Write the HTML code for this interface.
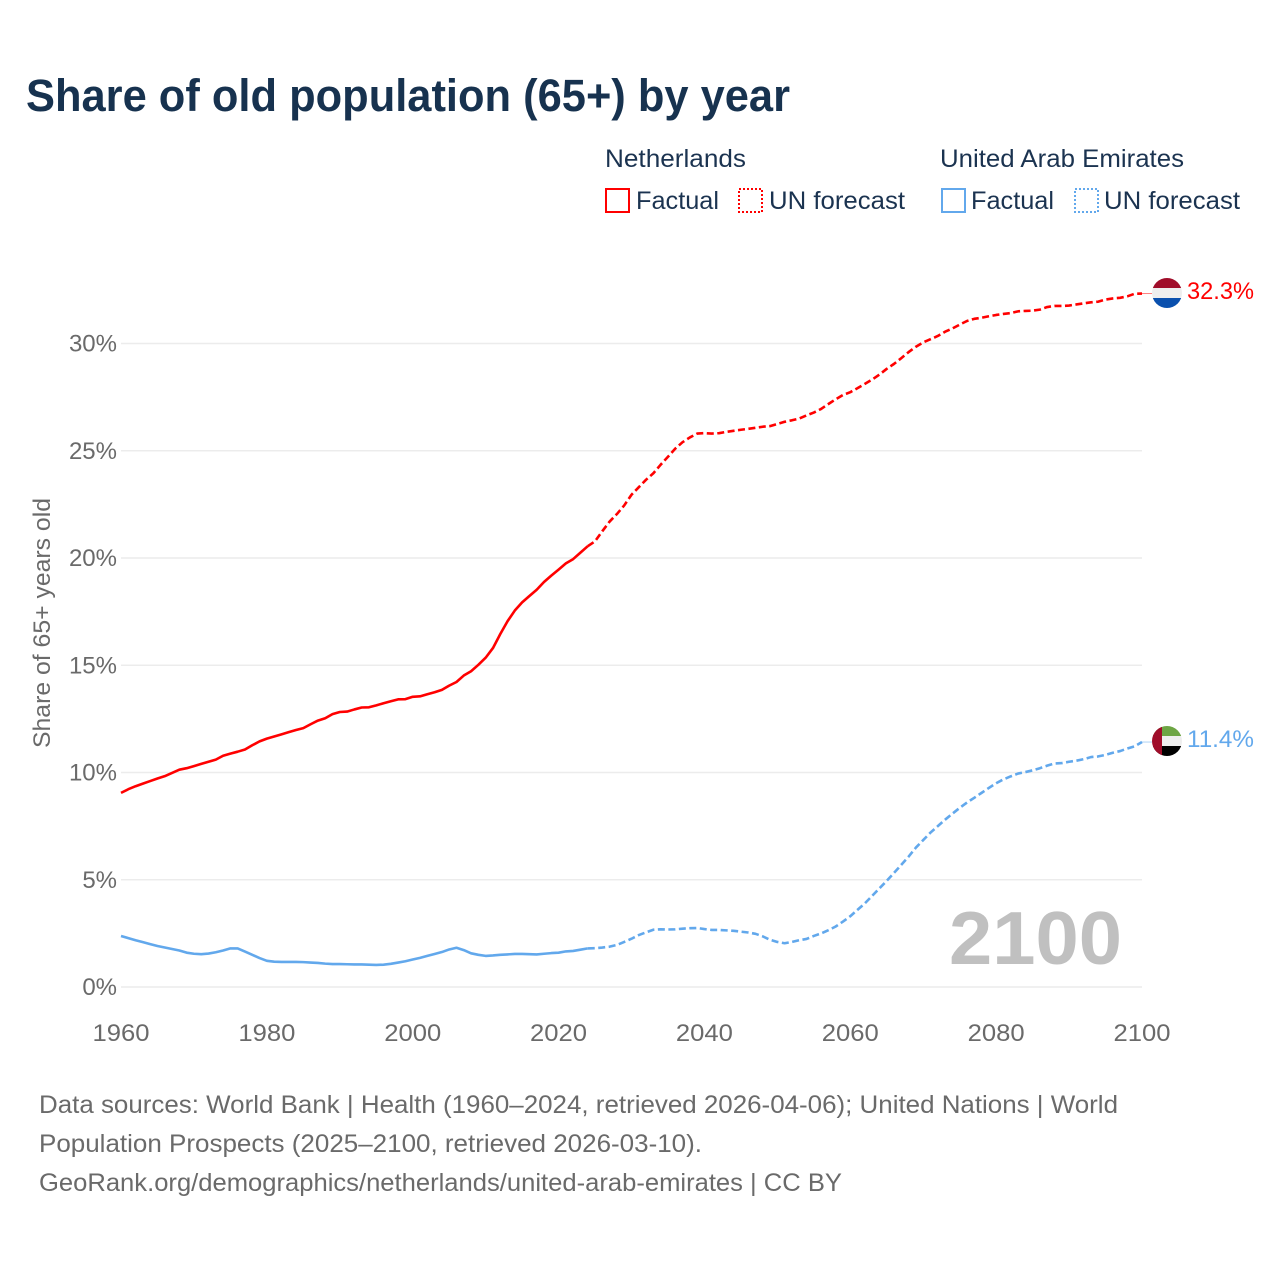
<!DOCTYPE html>
<html lang="en">
<head>
<meta charset="utf-8">
<title>Share of old population (65+) by year</title>
<style>
html,body{margin:0;padding:0;background:#fff;}
svg{display:block;font-family:"Liberation Sans",sans-serif;}
.tick{font-size:24px;fill:#6a6a6a;}
.foot{font-size:25px;fill:#6a6a6a;}
.leg{font-size:25px;fill:#1b3350;}
</style>
</head>
<body>
<svg id="chart" xmlns="http://www.w3.org/2000/svg" width="1280" height="1280" viewBox="0 0 1280 1280">
  <rect width="1280" height="1280" fill="#ffffff"/>
  <text x="26" y="111" font-size="45" font-weight="700" fill="#17324f" textLength="764" lengthAdjust="spacingAndGlyphs">Share of old population (65+) by year</text>

  <g>
    <text class="leg" x="605" y="167" textLength="141" lengthAdjust="spacingAndGlyphs">Netherlands</text>
    <rect x="606" y="189" width="23" height="23" fill="none" stroke="#ff0000" stroke-width="2"/>
    <text class="leg" x="636" y="209" textLength="83" lengthAdjust="spacingAndGlyphs">Factual</text>
    <rect x="739" y="189" width="23" height="23" fill="none" stroke="#ff0000" stroke-width="2" stroke-dasharray="2 2"/>
    <text class="leg" x="769" y="209" textLength="136" lengthAdjust="spacingAndGlyphs">UN forecast</text>

    <text class="leg" x="940" y="167" textLength="244" lengthAdjust="spacingAndGlyphs">United Arab Emirates</text>
    <rect x="942" y="189" width="23" height="23" fill="none" stroke="#62a8ec" stroke-width="2"/>
    <text class="leg" x="971" y="209" textLength="83" lengthAdjust="spacingAndGlyphs">Factual</text>
    <rect x="1075" y="189" width="23" height="23" fill="none" stroke="#62a8ec" stroke-width="2" stroke-dasharray="2 2"/>
    <text class="leg" x="1104" y="209" textLength="136" lengthAdjust="spacingAndGlyphs">UN forecast</text>
  </g>

  <g id="grid"></g>
  <g id="yticks"></g>
  <g id="xticks"></g>
  <text transform="translate(50,748) rotate(-90)" font-size="24" fill="#6a6a6a" textLength="250" lengthAdjust="spacingAndGlyphs">Share of 65+ years old</text>
  <text x="949" y="964" font-size="75" font-weight="700" fill="#c0c0c0" textLength="173" lengthAdjust="spacingAndGlyphs">2100</text>
  <g id="series"></g>

  <defs>
    <clipPath id="clip-nl"><circle cx="1167" cy="293" r="15"/></clipPath>
    <clipPath id="clip-uae"><circle cx="1167" cy="741" r="15"/></clipPath>
  </defs>
  <g clip-path="url(#clip-nl)">
    <rect x="1152" y="278" width="30" height="10" fill="#a00d2a"/>
    <rect x="1152" y="288" width="30" height="10" fill="#eeeeee"/>
    <rect x="1152" y="298" width="30" height="10" fill="#0a50ae"/>
  </g>
  <g clip-path="url(#clip-uae)">
    <rect x="1152" y="726" width="30" height="10" fill="#6da544"/>
    <rect x="1152" y="736" width="30" height="10" fill="#eeeeee"/>
    <rect x="1152" y="746" width="30" height="10" fill="#000000"/>
    <rect x="1152" y="726" width="10" height="30" fill="#a00d2a"/>
  </g>
  <text x="1187" y="299" font-size="24" fill="#ff0000" textLength="67" lengthAdjust="spacingAndGlyphs">32.3%</text>
  <text x="1187" y="747" font-size="24" fill="#62a8ec" textLength="67" lengthAdjust="spacingAndGlyphs">11.4%</text>

  <g>
    <text class="foot" x="39" y="1113" textLength="1079" lengthAdjust="spacingAndGlyphs">Data sources: World Bank | Health (1960–2024, retrieved 2026-04-06); United Nations | World</text>
    <text class="foot" x="39" y="1152" textLength="663" lengthAdjust="spacingAndGlyphs">Population Prospects (2025–2100, retrieved 2026-03-10).</text>
    <text class="foot" x="39" y="1191" textLength="803" lengthAdjust="spacingAndGlyphs">GeoRank.org/demographics/netherlands/united-arab-emirates | CC BY</text>
  </g>
</svg>
<script>
const yTickValues = [0, 5, 10, 15, 20, 25, 30];
const xTickYears = [1960, 1980, 2000, 2020, 2040, 2060, 2080, 2100];
const factualStartYear = 1960;
const forecastStartYear = 2024;
const netherlandsFactual = [
  9.05,9.22,9.36,9.48,9.6,9.72,9.83,9.98,10.13,10.2,
  10.3,10.4,10.5,10.6,10.78,10.88,10.97,11.07,11.27,11.45,
  11.58,11.68,11.78,11.88,11.98,12.07,12.25,12.42,12.53,12.72,
  12.82,12.84,12.94,13.03,13.04,13.13,13.23,13.32,13.41,13.42,
  13.53,13.55,13.65,13.74,13.85,14.05,14.22,14.52,14.72,15.02,
  15.35,15.8,16.45,17.05,17.55,17.93,18.23,18.52,18.88,19.18,
  19.46,19.75,19.95,20.25,20.55
];
const netherlandsForecast = [
  20.55,20.78,21.25,21.7,22.05,22.45,
  22.95,23.3,23.65,23.95,24.35,24.72,25.1,25.4,25.62,25.8,
  25.82,25.8,25.82,25.88,25.93,25.98,26.02,26.07,26.12,26.15,
  26.25,26.35,26.42,26.5,26.65,26.78,26.95,27.18,27.4,27.6,
  27.73,27.92,28.12,28.32,28.55,28.82,29.05,29.32,29.6,29.85,
  30.05,30.2,30.35,30.55,30.7,30.88,31.05,31.15,31.2,31.27,
  31.33,31.38,31.42,31.5,31.52,31.53,31.58,31.7,31.75,31.75,
  31.77,31.82,31.87,31.92,31.95,32.05,32.1,32.13,32.2,32.32,
  32.33
];
const uaeFactual = [
  2.38,2.28,2.18,2.09,2.0,1.91,1.84,1.77,1.7,1.6,
  1.55,1.53,1.56,1.62,1.7,1.8,1.8,1.65,1.5,1.35,
  1.22,1.18,1.17,1.17,1.17,1.16,1.14,1.12,1.09,1.07,
  1.07,1.06,1.05,1.05,1.04,1.03,1.04,1.08,1.14,1.2,
  1.28,1.36,1.45,1.54,1.63,1.75,1.83,1.72,1.57,1.5,
  1.45,1.47,1.5,1.52,1.54,1.54,1.53,1.52,1.55,1.58,
  1.6,1.66,1.68,1.74,1.8
];
const uaeForecast = [
  1.8,1.81,1.84,1.88,1.96,2.1,
  2.25,2.42,2.55,2.67,2.69,2.68,2.69,2.72,2.74,2.75,
  2.7,2.66,2.66,2.64,2.62,2.58,2.54,2.48,2.36,2.2,
  2.1,2.04,2.1,2.18,2.24,2.38,2.5,2.65,2.82,3.05,
  3.3,3.6,3.9,4.25,4.6,4.95,5.32,5.7,6.08,6.5,
  6.85,7.2,7.5,7.8,8.08,8.35,8.6,8.82,9.05,9.28,
  9.5,9.68,9.82,9.95,10.02,10.1,10.2,10.32,10.42,10.44,
  10.5,10.55,10.62,10.72,10.75,10.82,10.92,11.0,11.12,11.22,
  11.42
];

const NS = 'http://www.w3.org/2000/svg';
function xScale(year){ return 121 + (year - 1960) * (1142 - 121) / 140; }
function yScale(v){ return 987 - v * (987 - 343.5) / 30; }
function make(tag, attrs, parent, text){
  const el = document.createElementNS(NS, tag);
  for (const k in attrs) el.setAttribute(k, attrs[k]);
  if (text !== undefined) el.textContent = text;
  parent.appendChild(el);
  return el;
}
const gridG = document.getElementById('grid');
const yG = document.getElementById('yticks');
const xG = document.getElementById('xticks');
const seriesG = document.getElementById('series');

yTickValues.forEach(function(v){
  const line = make('line', {x1:121, x2:1142, y1:yScale(v), y2:yScale(v), stroke:'#ececec', 'stroke-width':1.6}, gridG);
  
  
  const label = make('text', {x:117, y:yScale(v)+8, 'text-anchor':'end', class:'tick'}, yG, v + '%');
  
  
});
xTickYears.forEach(function(yr){
  const label = make('text', {x:xScale(yr), y:1041, 'text-anchor':'middle', class:'tick', textLength:57, lengthAdjust:'spacingAndGlyphs'}, xG, String(yr));
  
  
});
function pathFor(values, startYear){
  return values.map(function(v, i){
    return (i ? 'L' : 'M') + xScale(startYear + i).toFixed(2) + ' ' + yScale(v).toFixed(2);
  }).join(' ');
}
function drawSeries(name, values, startYear, color, dash){
  const attrs = {d:pathFor(values, startYear), fill:'none', stroke:color, 'stroke-width':2.6, 'stroke-linejoin':'round'};
  if (dash) attrs['stroke-dasharray'] = dash;
  const p = make('path', attrs, seriesG);
  
  
}
drawSeries('line-netherlands-factual', netherlandsFactual, factualStartYear, '#ff0000');
drawSeries('line-netherlands-forecast', netherlandsForecast, forecastStartYear, '#ff0000', '7 3.5');
drawSeries('line-uae-factual', uaeFactual, factualStartYear, '#62a8ec');
drawSeries('line-uae-forecast', uaeForecast, forecastStartYear, '#62a8ec', '7 3.5');

function drawConnector(name, value, color){
  const c = make('line', {x1:1142, x2:1152, y1:yScale(value), y2:yScale(value), stroke:color, 'stroke-width':1, 'stroke-opacity':0.5}, seriesG);
  
  
}
drawConnector('netherlands-end-connector', netherlandsForecast[netherlandsForecast.length - 1], '#ff0000');
drawConnector('uae-end-connector', uaeForecast[uaeForecast.length - 1], '#62a8ec');
</script>
</body>
</html>
